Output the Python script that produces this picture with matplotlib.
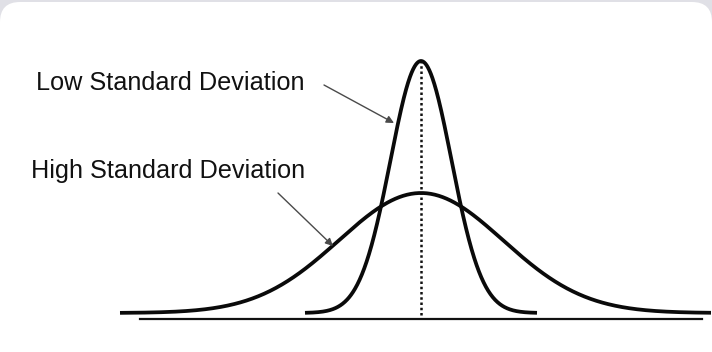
import numpy as np
import matplotlib
matplotlib.use("Agg")
import matplotlib.pyplot as plt
from matplotlib.patches import FancyBboxPatch

# two normal curves sharing the same mean (units: 1 = 100 px)
MEAN = 0.0
CURVE_NAMES = ["Low Standard Deviation", "High Standard Deviation"]
CURVE_SD = [0.305, 0.82]
CURVE_PEAK = [2.52, 1.20]
CURVE_XMIN = [-1.16, -3.01]
CURVE_XMAX = [1.16, 2.90]

# horizontal axis line under the curves
AXIS_X = [-2.81, 2.81]
AXIS_Y = -0.06

# label anchor (text left/baseline) and arrow tip for each curve
LABEL_POS = [(-3.85, 2.23), (-3.90, 1.35)]
ARROW_FROM = [(-0.97, 2.28), (-1.43, 1.20)]
ARROW_TO = [(-0.27, 1.90), (-0.88, 0.67)]

plt.rcParams["font.family"] = ["Liberation Sans", "DejaVu Sans"]

fig = plt.figure(figsize=(7.12, 3.52), dpi=100, facecolor="#e0e0e6")
ax = fig.add_axes([0, 0, 1, 1])
ax.set_xlim(-4.21, 2.91)
ax.set_ylim(-0.39, 3.13)
ax.axis("off")

# white card with rounded corners (screenshot frame)
card = FancyBboxPatch((-4.21, -1.0), 7.12, 4.11,
                      boxstyle="round,pad=0,rounding_size=0.2",
                      facecolor="white", edgecolor="none", zorder=0)
ax.add_patch(card)

for sd, peak, x0, x1 in zip(CURVE_SD, CURVE_PEAK, CURVE_XMIN, CURVE_XMAX):
    xs = np.linspace(x0, x1, 600)
    ys = peak * np.exp(-(xs - MEAN) ** 2 / (2 * sd ** 2))
    ax.plot(xs, ys, color="#0a0a0a", lw=2.7, solid_capstyle="butt", zorder=3)

# dotted line at the mean
ax.plot([MEAN, MEAN], [-0.02, max(CURVE_PEAK)], color="#111111", lw=1.8,
        linestyle=(0, (1, 1.1)), zorder=2)

ax.plot(AXIS_X, [AXIS_Y, AXIS_Y], color="#111111", lw=1.6, zorder=2)

for name, (tx, ty), p0, p1 in zip(CURVE_NAMES, LABEL_POS, ARROW_FROM, ARROW_TO):
    ax.text(tx, ty, name, fontsize=18.2, color="#111111",
            ha="left", va="baseline", zorder=4)
    ax.annotate("", xy=p1, xytext=p0,
                arrowprops=dict(arrowstyle="-|>", color="#4a4a4a", lw=1.0,
                                mutation_scale=11, shrinkA=0, shrinkB=0),
                zorder=4)

fig.savefig("out.png", dpi=100, facecolor=fig.get_facecolor())
